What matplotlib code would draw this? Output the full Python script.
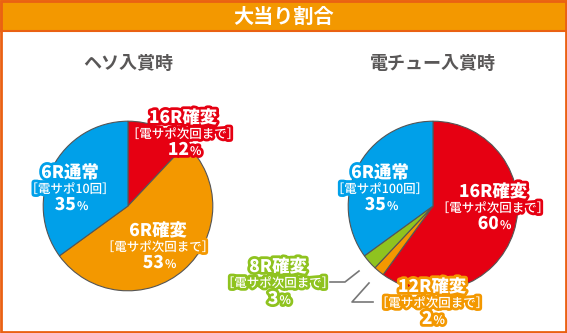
import matplotlib.pyplot as plt
import matplotlib.patheffects as pe
from matplotlib.patches import Rectangle

plt.rcParams['font.family'] = ['Noto Sans CJK JP', 'DejaVu Sans']

# heso (start chucker) hits
heso_labels = ['16R確変', '6R確変', '6R通常']
heso_sub = ['［電サポ次回まで］', '［電サポ次回まで］', '［電サポ10回］']
heso_values = [12, 53, 35]

# electric chucker hits
den_labels = ['16R確変', '12R確変', '8R確変', '6R通常']
den_sub = ['［電サポ次回まで］', '［電サポ次回まで］', '［電サポ次回まで］', '［電サポ100回］']
den_values = [60, 2, 3, 35]

RED = '#e60012'
ORANGE = '#f39800'
BLUE = '#00a0e9'
GREEN = '#8fc31f'
FRAME = '#ea6113'
heso_colors = [RED, ORANGE, BLUE]
den_colors = [RED, ORANGE, GREEN, BLUE]

W, H = 567, 333
fig = plt.figure(figsize=(W / 100, H / 100), dpi=100)


def pie_axes(cx, cy, r):
    ax = fig.add_axes([(cx - r) / W, (H - cy - r) / H, 2 * r / W, 2 * r / H])
    ax.set_xlim(-1, 1)
    ax.set_ylim(-1, 1)
    ax.set_aspect('equal')
    ax.axis('off')
    return ax


ax1 = pie_axes(128, 206, 106)
ax1.pie(heso_values, colors=heso_colors, startangle=90, counterclock=False,
        radius=1, wedgeprops=dict(edgecolor='#555555', linewidth=0.8))

ax2 = pie_axes(433, 206, 106)
ax2.pie(den_values, colors=den_colors, startangle=90, counterclock=False,
        radius=1, wedgeprops=dict(edgecolor='#555555', linewidth=0.8))

# overlay in pixel coordinates for frame, titles and labels
ov = fig.add_axes([0, 0, 1, 1], facecolor='none')
ov.set_xlim(0, W)
ov.set_ylim(H, 0)
ov.axis('off')

ov.add_patch(Rectangle((0, 0), W, 31, facecolor=ORANGE, edgecolor='none'))
ov.plot([0, W], [31, 31], color=FRAME, lw=1.5)
ov.add_patch(Rectangle((1, 1), W - 2, H - 2, facecolor='none', edgecolor=FRAME, lw=2))
ov.text(W / 2, 16, '大当り割合', color='white', fontsize=14.5, fontweight='bold',
        ha='center', va='center')

ov.text(128, 63, 'ヘソ入賞時', color='#595757', fontsize=13, fontweight='bold',
        ha='center', va='center')
ov.text(433, 63, '電チュー入賞時', color='#595757', fontsize=13, fontweight='bold',
        ha='center', va='center')


def label(cx, cy, name, sub, value, color):
    fx = [pe.withStroke(linewidth=4, foreground=color)]
    ov.text(cx, cy, name, color='white', fontsize=12.5, fontweight='heavy',
            ha='center', va='center', path_effects=fx)
    ov.text(cx, cy + 16.5, sub, color='white', fontsize=9, fontweight='medium',
            ha='center', va='center', path_effects=fx)
    num = str(value)
    shift = (11 * len(num) - 10) / 2
    ov.text(cx + shift, cy + 32, num, color='white', fontsize=12.5, fontweight='heavy',
            ha='right', va='center', path_effects=fx)
    ov.text(cx + shift + 1, cy + 33.5, '%', color='white', fontsize=8.5, fontweight='bold',
            ha='left', va='center', path_effects=fx)


heso_pos = [(183, 118), (158, 231), (70, 173)]
for (x, y), n, s, v, c in zip(heso_pos, heso_labels, heso_sub, heso_values, heso_colors):
    label(x, y, n, s, v, c)

den_pos = [(493, 192), (432, 287), (278, 267), (380, 173)]
for (x, y), n, s, v, c in zip(den_pos, den_labels, den_sub, den_values, den_colors):
    label(x, y, n, s, v, c)

# leader lines for the thin slices
ov.plot([330, 345, 359], [282, 282, 271], color='#777777', lw=1.2)
ov.plot([373, 352, 369], [302, 302, 283], color='#777777', lw=1.2)

fig.savefig('out.png', dpi=100)
